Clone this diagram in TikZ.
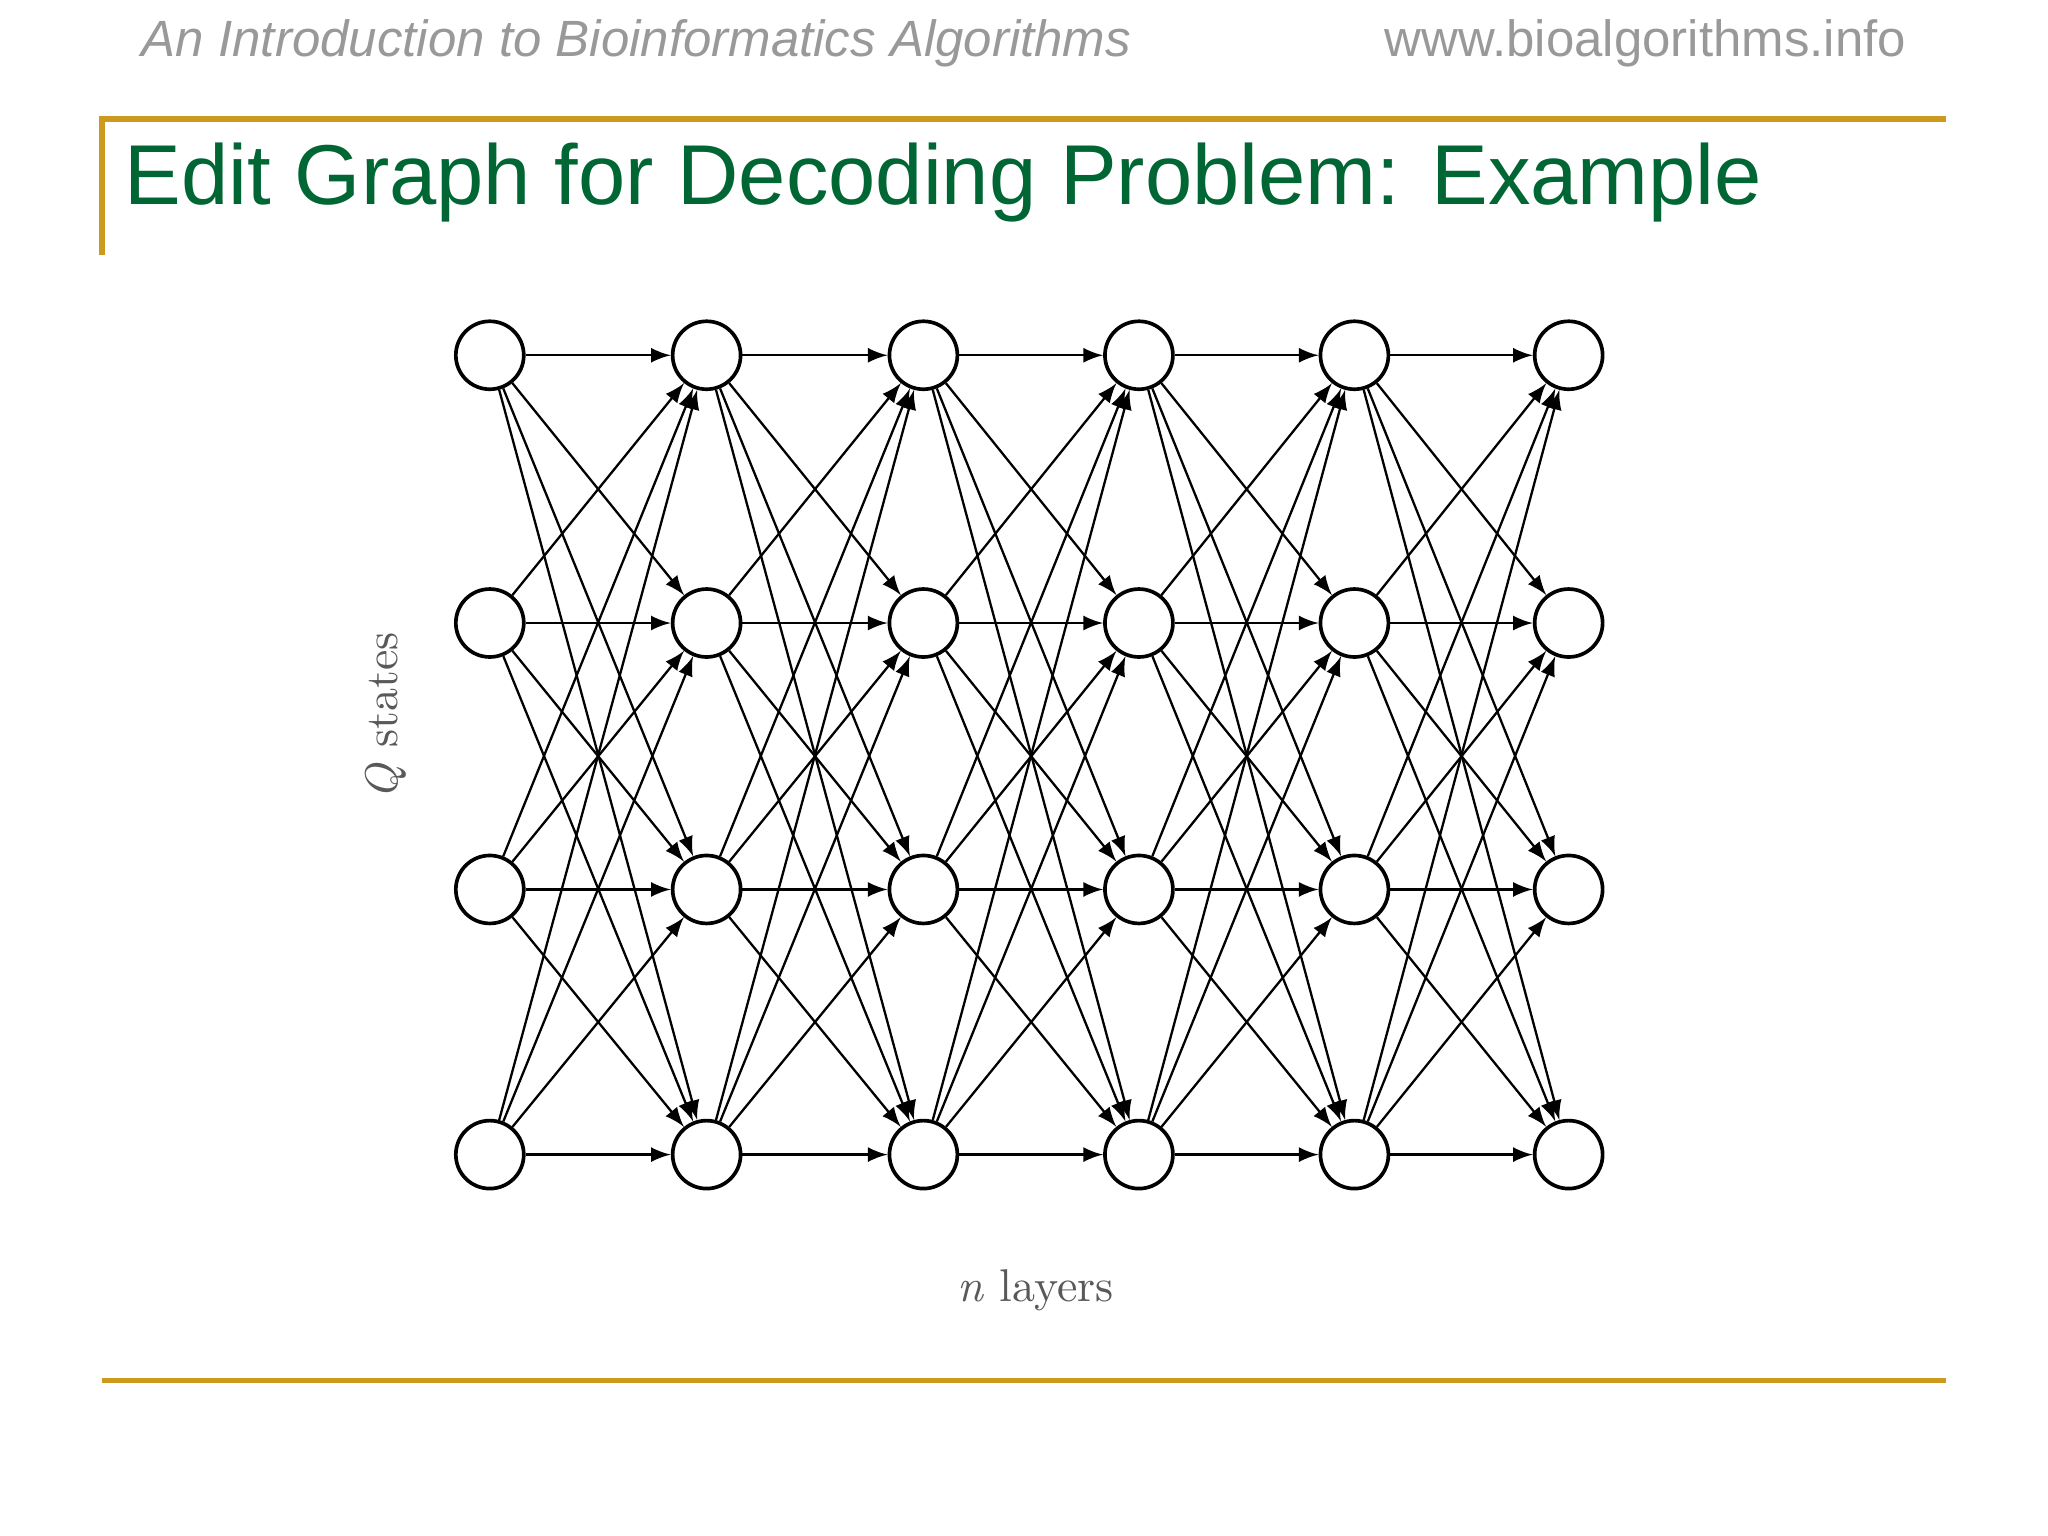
\documentclass[tikz,border=0pt]{standalone}
\usepackage{fontspec}
\setmainfont{Liberation Sans}
\newfontfamily\serifx{Latin Modern Roman}
\definecolor{gold}{RGB}{204,155,30}
\definecolor{titlegreen}{RGB}{0,102,51}
\begin{document}
\begin{tikzpicture}[x=0.01cm,y=-0.01cm,
  st/.style={circle,draw,line width=0.8pt,minimum size=0.52cm,inner sep=0pt,fill=white},
  ed/.style={-latex,line width=0.5pt}]
\useasboundingbox (0,0) rectangle (1568,1176);
\node[anchor=west,inner sep=0pt,text=gray!80,font=\itshape\fontsize{11.1}{13}\selectfont] (h1) at (108,33) {An Introduction to Bioinformatics Algorithms};
\node[anchor=east,inner sep=0pt,text=gray!80,font=\fontsize{11.1}{13}\selectfont] (h2) at (1460,33) {www.bioalgorithms.info};
\draw[gold,line width=1.2pt] (78,195) -- (78,91) -- (1490,91);
\draw[gold,line width=1.2pt] (78,1057) -- (1490,1057);
\node[anchor=west,inner sep=0pt,text=titlegreen,font=\fontsize{18.5}{22}\selectfont] (t) at (95,140) {Edit Graph for Decoding Problem: Example};
\foreach \c/\x in {1/375,2/541,3/707,4/872,5/1037,6/1201}
  \foreach \r/\y in {1/272,2/477,3/681,4/884}
    \node[st] (n\c\r) at (\x,\y) {};
\foreach \c [evaluate=\c as \d using int(\c+1)] in {1,...,5}
  \foreach \r in {1,...,4}
    \foreach \s in {1,...,4}
      \draw[ed] (n\c\r) -- (n\d\s);
\node[rotate=90,font=\serifx\fontsize{10}{12}\selectfont,text=gray!70!black] (q) at (295,548) {\textit{Q} states};
\node[font=\serifx\fontsize{10}{12}\selectfont,text=gray!70!black] (l) at (793,988) {\textit{n} layers};
\end{tikzpicture}
\end{document}
